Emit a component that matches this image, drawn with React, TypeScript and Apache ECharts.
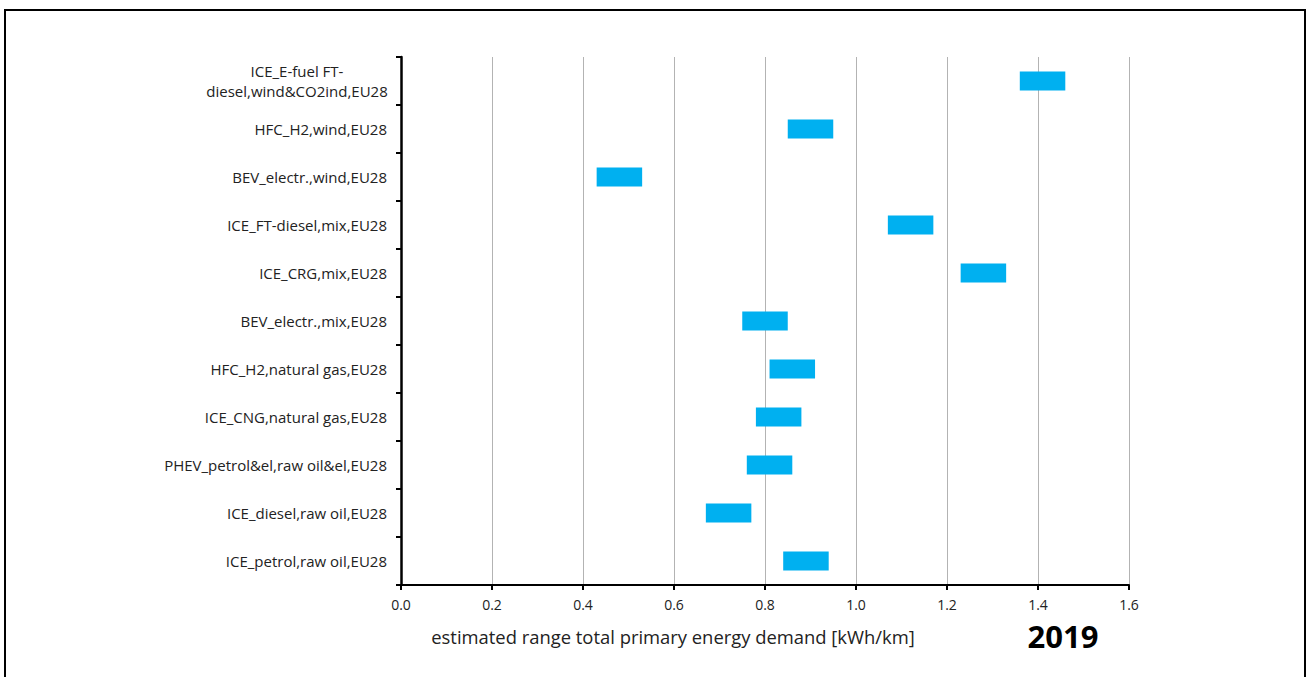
import React, { useEffect, useRef } from "react";
import * as echarts from "echarts";

const categories = [
  "ICE_E-fuel FT-\ndiesel,wind&CO2ind,EU28",
  "HFC_H2,wind,EU28",
  "BEV_electr.,wind,EU28",
  "ICE_FT-diesel,mix,EU28",
  "ICE_CRG,mix,EU28",
  "BEV_electr.,mix,EU28",
  "HFC_H2,natural gas,EU28",
  "ICE_CNG,natural gas,EU28",
  "PHEV_petrol&el,raw oil&el,EU28",
  "ICE_diesel,raw oil,EU28",
  "ICE_petrol,raw oil,EU28",
];

const lowValues = [1.36, 0.85, 0.43, 1.07, 1.23, 0.75, 0.81, 0.78, 0.76, 0.67, 0.84];
const highValues = [1.46, 0.95, 0.53, 1.17, 1.33, 0.85, 0.91, 0.88, 0.86, 0.77, 0.94];

const xTicks = [0, 0.2, 0.4, 0.6, 0.8, 1.0, 1.2, 1.4, 1.6];
const axisTitle = "estimated range total primary energy demand [kWh/km]";
const yearLabel = "2019";

const FONT = "'Open Sans', 'Noto Sans', sans-serif";

export default function App() {
  const ref = useRef<HTMLDivElement>(null);
  useEffect(() => {
    if (!ref.current) return;
    const chart = echarts.init(ref.current, null, { renderer: "svg" });
    const ranges = highValues.map((h, i) => +(h - lowValues[i]).toFixed(3));
    chart.setOption({
      animation: false,
      backgroundColor: "#fff",
      grid: { left: 401, right: 180, top: 57, bottom: 92, containLabel: false },
      xAxis: {
        type: "value",
        min: xTicks[0],
        max: xTicks[xTicks.length - 1],
        interval: 0.2,
        axisLine: { show: true, onZero: false, lineStyle: { color: "#000", width: 2 } },
        axisTick: { show: true, length: 5, lineStyle: { color: "#000", width: 2 } },
        axisLabel: {
          color: "#222",
          fontFamily: FONT,
          fontSize: 14,
          margin: 12,
          formatter: (v: number) => v.toFixed(1),
        },
        splitLine: { show: true, lineStyle: { color: "#b3b3b3", width: 1 } },
      },
      yAxis: {
        type: "category",
        data: categories,
        inverse: true,
        axisLine: { show: true, lineStyle: { color: "#000", width: 2.5 } },
        axisTick: { show: true, length: 5, lineStyle: { color: "#000", width: 2 } },
        axisLabel: {
          color: "#222",
          fontFamily: FONT,
          fontSize: 15,
          margin: 14,
          lineHeight: 20,
          formatter: (v: string) => {
            if (v.indexOf("\n") >= 0) {
              return v
                .split("\n")
                .map((s) => "{c|" + s + "}")
                .join("\n");
            }
            return v;
          },
          rich: {
            c: { width: 180, align: "center", fontFamily: FONT, fontSize: 15, color: "#222", lineHeight: 20 },
          },
        },
        splitLine: { show: false },
      },
      series: [
        {
          type: "bar",
          stack: "r",
          data: lowValues,
          barWidth: 19,
          itemStyle: { color: "transparent" },
          silent: true,
        },
        {
          type: "bar",
          stack: "r",
          data: ranges,
          barWidth: 19,
          itemStyle: { color: "#00B0F0" },
        },
      ],
      graphic: [
        {
          type: "rect",
          shape: { x: 5, y: 10, width: 1300, height: 700 },
          style: { fill: "none", stroke: "#000", lineWidth: 2 },
          silent: true,
        },
        {
          type: "text",
          x: 673,
          y: 636,
          style: {
            text: axisTitle,
            fontFamily: FONT,
            fontSize: 18.4,
            fill: "#222",
            align: "center",
            verticalAlign: "middle",
          },
        },
        {
          type: "text",
          x: 1063,
          y: 636,
          style: {
            text: yearLabel,
            fontFamily: FONT,
            fontSize: 31,
            fontWeight: "bold",
            fill: "#000",
            align: "center",
            verticalAlign: "middle",
          },
        },
      ],
    });
    return () => chart.dispose();
  }, []);
  return (
    <div
      ref={ref}
      style={{ position: "fixed", left: 0, top: 0, width: 1309, height: 677 }}
    />
  );
}
